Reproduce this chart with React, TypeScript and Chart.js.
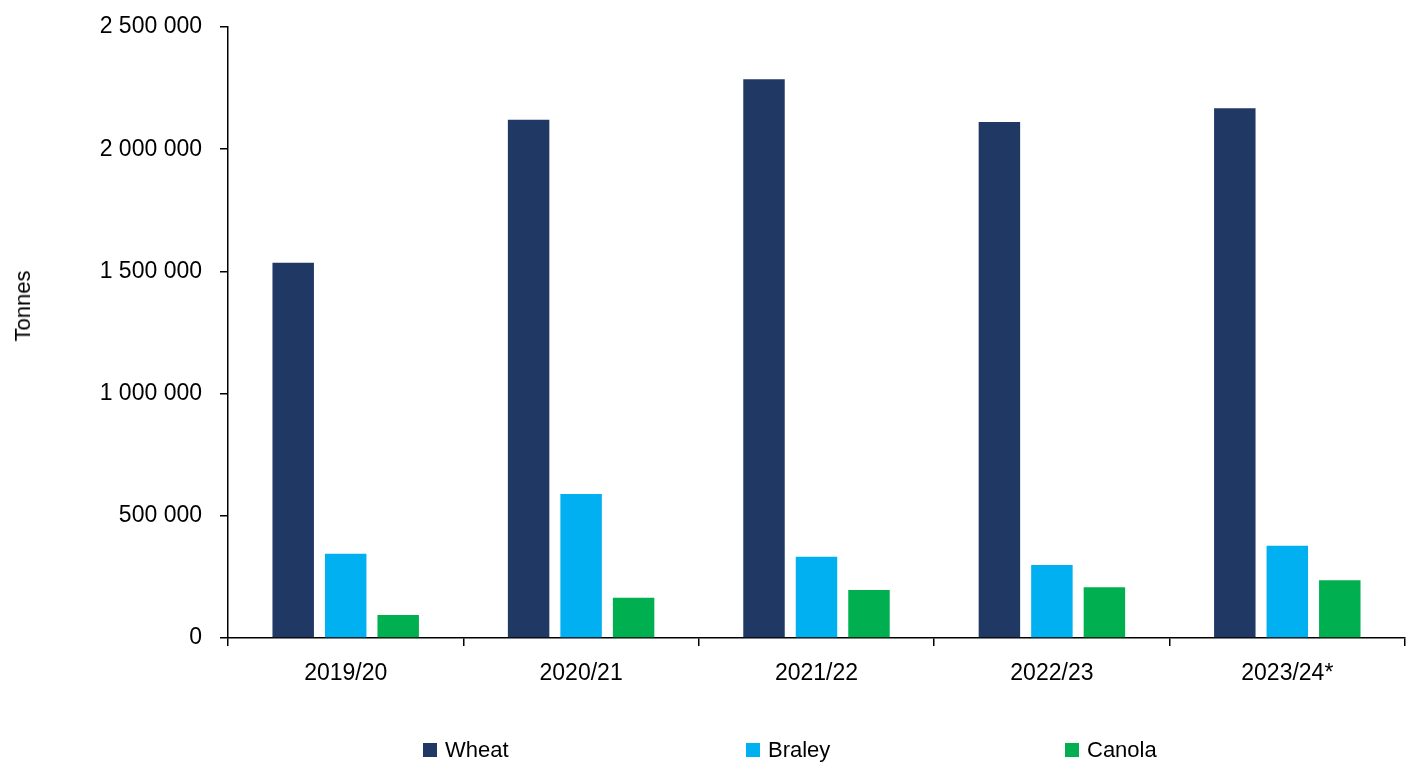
import React, { useEffect, useRef } from "react";
import { Chart, registerables } from "chart.js";

Chart.register(...registerables);

const categories = ["2019/20", "2020/21", "2021/22", "2022/23", "2023/24*"];
const wheat = [1535000, 2120000, 2286000, 2111000, 2168000];
const barley = [345000, 589000, 332000, 299000, 377000];
const canola = [94000, 165000, 196000, 208000, 236000];
const seriesNames = ["Wheat", "Braley", "Canola"];
const seriesColors = ["#203864", "#00B0F0", "#00B050"];
const yTicks = [0, 500000, 1000000, 1500000, 2000000, 2500000];

const FONT = "'Liberation Sans', Arial, sans-serif";

const fmt = (v: number) =>
  String(Math.round(v)).replace(/\B(?=(\d{3})+(?!\d))/g, " ");

export default function App() {
  const ref = useRef<HTMLCanvasElement | null>(null);

  useEffect(() => {
    if (!ref.current) return;
    const data = [wheat, barley, canola];
    const chart = new Chart(ref.current, {
      type: "bar",
      data: {
        labels: categories,
        datasets: seriesNames.map((n, i) => ({
          label: n,
          data: data[i],
          backgroundColor: seriesColors[i],
          borderWidth: 0,
          categoryPercentage: 0.669,
          barPercentage: 0.79,
        })),
      },
      options: {
        animation: false,
        responsive: false,
        maintainAspectRatio: false,
        layout: { padding: { left: 0, top: 27, right: 10, bottom: 0 } },
        plugins: {
          legend: { display: false },
          tooltip: { enabled: false },
        },
        scales: {
          x: {
            grid: {
              offset: true,
              drawOnChartArea: false,
              drawTicks: true,
              tickLength: 8,
              color: "#000",
              lineWidth: 1.5,
            },
            border: { display: true, color: "#000", width: 1.5 },
            ticks: {
              color: "#000",
              padding: 14,
              font: { family: FONT, size: 23 },
            },
            afterFit: (s: any) => {
              s.height = 127;
              s.paddingLeft = 0;
              s.paddingRight = 0;
            },
          },
          y: {
            min: 0,
            max: 2500000,
            afterBuildTicks: (s: any) => {
              s.ticks = yTicks.map((v) => ({ value: v }));
            },
            grid: {
              drawOnChartArea: false,
              drawTicks: true,
              tickLength: 8,
              color: "#000",
              lineWidth: 1.5,
            },
            border: { display: true, color: "#000", width: 1.5 },
            ticks: {
              color: "#000",
              padding: 18,
              font: { family: FONT, size: 23 },
              callback: (v: any) => fmt(Number(v)),
            },
            afterFit: (s: any) => {
              s.width = 228;
              s.paddingTop = 0;
              s.paddingBottom = 0;
            },
          },
        },
      },
    });
    return () => chart.destroy();
  }, []);

  const legendX = [423, 746, 1065];

  return (
    <div
      style={{
        position: "absolute",
        left: 0,
        top: 0,
        width: 1415,
        height: 765,
        background: "#fff",
        overflow: "hidden",
      }}
    >
      <canvas ref={ref} width={1415} height={765} style={{ display: "block" }} />
      <div
        style={{
          position: "absolute",
          left: 23,
          top: 306,
          transform: "translate(-50%, -50%) rotate(-90deg)",
          fontFamily: FONT,
          fontSize: 22,
          color: "#000",
          whiteSpace: "nowrap",
          lineHeight: 1,
        }}
      >
        Tonnes
      </div>
      {seriesNames.map((n, i) => (
        <div
          key={n}
          style={{
            position: "absolute",
            left: legendX[i],
            top: 736,
            height: 28,
            display: "flex",
            alignItems: "center",
            fontFamily: FONT,
            fontSize: 22,
            color: "#000",
            whiteSpace: "nowrap",
          }}
        >
          <span
            style={{
              display: "inline-block",
              width: 14,
              height: 14,
              background: seriesColors[i],
              marginRight: 8,
            }}
          />
          {n}
        </div>
      ))}
    </div>
  );
}
